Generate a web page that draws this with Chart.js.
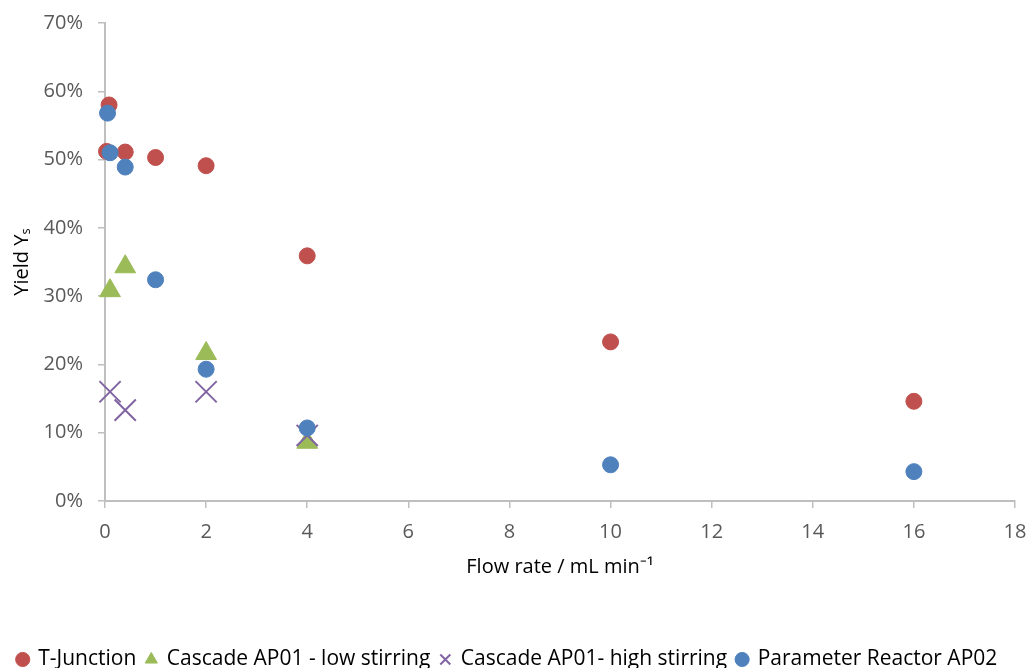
<!DOCTYPE html>
<html>
    <head>
        <script src="https://cdn.jsdelivr.net/npm/chart.js@4/dist/chart.umd.min.js"></script>
        <style>
            body { margin: 0; background: #fff; }
        </style>
    </head>
    <body>
        <canvas id="chart" width="1034" height="668"></canvas>
        <script>
        // values (x = flow rate in mL/min, y = yield in %)
        const tJunctionX = [0.08, 0.03, 0.4, 1, 2, 4, 10, 16];
        const tJunctionY = [58.0, 51.2, 51.1, 50.3, 49.1, 35.9, 23.3, 14.6];

        const lowStirX = [0.1, 0.4, 2, 4];
        const lowStirY = [30.8, 34.3, 21.6, 8.6];

        const highStirX = [0.1, 0.4, 2, 4];
        const highStirY = [16.0, 13.3, 16.0, 9.6];

        const reactorX = [0.05, 0.1, 0.4, 1, 2, 4, 10, 16];
        const reactorY = [56.8, 51.0, 48.9, 32.4, 19.3, 10.7, 5.3, 4.3];

        const labels = ['T-Junction', 'Cascade AP01 - low stirring', 'Cascade AP01- high stirring', 'Parameter Reactor AP02'];

        const pts = (xs, ys) => xs.map((x, i) => ({x: x, y: ys[i]}));

        const font = "'Open Sans', sans-serif";
        const axisColor = '#BFBFBF';

        new Chart(document.getElementById('chart'), {
            type: 'scatter',
            data: {
                // order: later series sit on top, like in the original
                datasets: [{
                    label: labels[0],
                    data: pts(tJunctionX, tJunctionY),
                    order: 4,
                    clip: false,
                    pointStyle: 'circle',
                    pointRadius: 8,
                    backgroundColor: '#C0504D',
                    borderColor: '#C0504D'
                }, {
                    label: labels[1],
                    data: pts(lowStirX, lowStirY),
                    order: 3,
                    clip: false,
                    pointStyle: 'triangle',
                    pointRadius: 12,
                    backgroundColor: '#9BBB59',
                    borderColor: '#9BBB59'
                }, {
                    label: labels[2],
                    data: pts(highStirX, highStirY),
                    order: 2,
                    clip: false,
                    pointStyle: 'crossRot',
                    pointRadius: 15,
                    borderWidth: 2,
                    backgroundColor: '#8064A2',
                    borderColor: '#8064A2'
                }, {
                    label: labels[3],
                    data: pts(reactorX, reactorY),
                    order: 1,
                    clip: false,
                    pointStyle: 'circle',
                    pointRadius: 8,
                    backgroundColor: '#4F81BD',
                    borderColor: '#4F81BD'
                }]
            },
            options: {
                responsive: false,
                animation: false,
                layout: { padding: { left: 0, right: 19, top: 23, bottom: -12 } },
                plugins: {
                    tooltip: { enabled: false },
                    legend: {
                        position: 'bottom',
                        labels: {
                            usePointStyle: true,
                            boxWidth: 10,
                            boxHeight: 10,
                            padding: 10,
                            color: '#000',
                            font: { family: font, size: 21 },
                            sort: (a, b) => a.datasetIndex - b.datasetIndex
                        }
                    }
                },
                scales: {
                    x: {
                        type: 'linear',
                        min: 0,
                        max: 18,
                        ticks: { stepSize: 2, color: '#595959', font: { family: font, size: 20 }, padding: 12 },
                        grid: { drawOnChartArea: false, drawTicks: true, tickLength: 7, color: axisColor, lineWidth: 1.5 },
                        border: { color: axisColor, width: 2 },
                        title: { display: true, text: 'Flow rate / mL min⁻¹', color: '#000', font: { family: font, size: 20 }, padding: { top: 10, bottom: 60 } },
                        afterFit: s => { s.height = 138; s.paddingRight = 0; s.paddingLeft = 0; }
                    },
                    y: {
                        min: 0,
                        max: 70,
                        ticks: { stepSize: 10, color: '#595959', font: { family: font, size: 20 }, padding: 15, callback: v => v + '%' },
                        grid: { drawOnChartArea: false, drawTicks: true, tickLength: 7, color: axisColor, lineWidth: 1.5 },
                        border: { color: axisColor, width: 2 },
                        title: { display: true, text: 'Yield Yₛ', color: '#000', font: { family: font, size: 20 }, padding: { top: 10, bottom: 6 } },
                        afterFit: s => { s.width = 105; s.paddingTop = 0; s.paddingBottom = 0; }
                    }
                }
            }
        });
        </script>
    </body>
</html>
